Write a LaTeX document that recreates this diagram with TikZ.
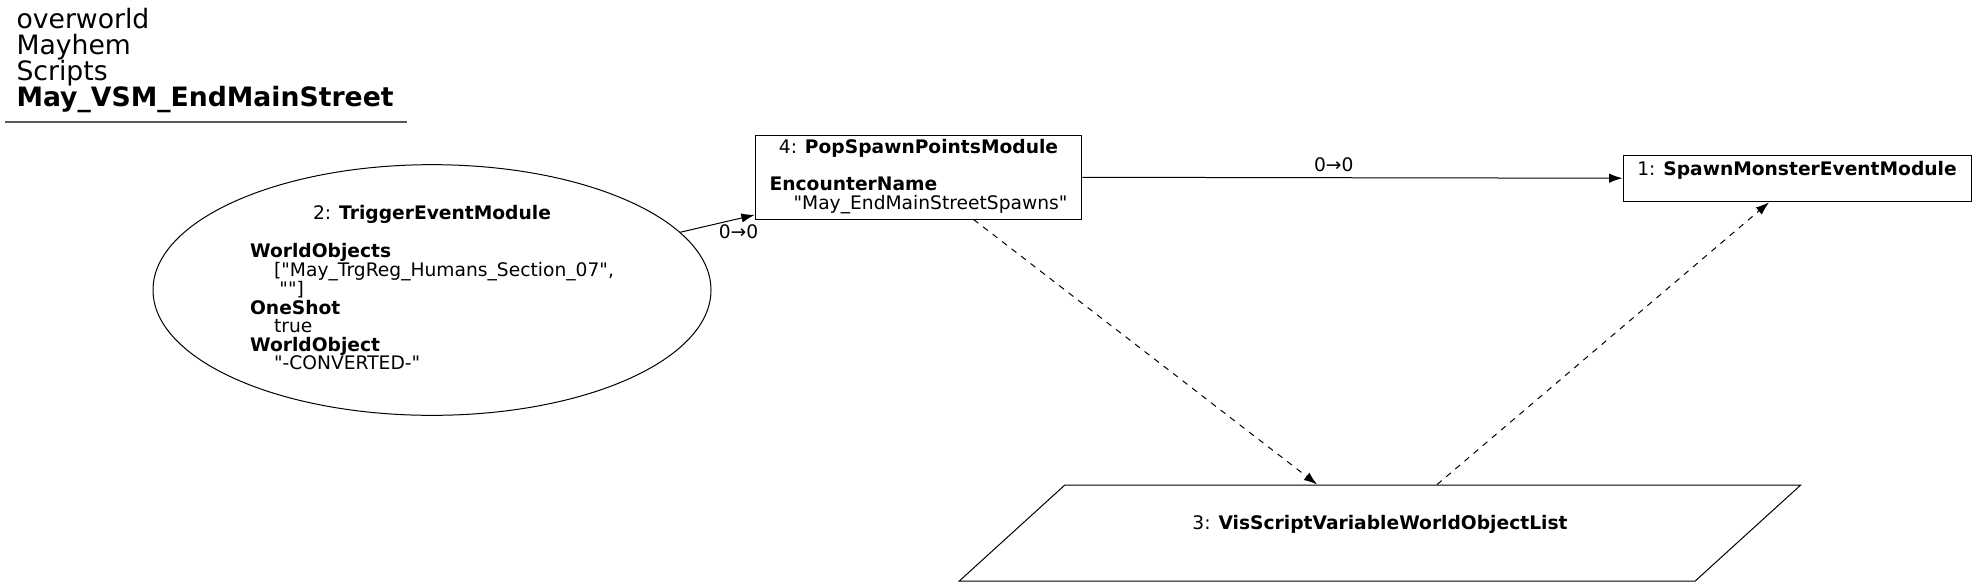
\documentclass[tikz,border=0pt]{standalone}
\usepackage{fontspec}
\setmainfont{DejaVu Sans}
\usetikzlibrary{arrows.meta, shapes.geometric}
\renewcommand{\arraystretch}{0.85}
\newcommand{\strq}{\textquotedbl}

\begin{document}
\begin{tikzpicture}[x=0.75pt, y=-0.75pt, ->, >={Latex[length=10pt,width=7pt]}, line width=0.75pt,
  every node/.style={font=\fontsize{14pt}{14pt}\selectfont},
  module node/.style={rectangle, draw, inner sep=0pt},
  event node/.style={ellipse, draw, inner sep=0pt, minimum width=418.5pt, minimum height=188pt},
  var node/.style={trapezium, trapezium left angle=29, trapezium right angle=151,
    trapezium stretches=true, draw, inner sep=0pt, minimum width=633pt, minimum height=72pt},
  title text/.style={anchor=base west, inner sep=0pt, font=\fontsize{20pt}{20pt}\selectfont},
  port label/.style={inner sep=0pt},
  link/.style={dash pattern=on 4.5pt off 4.5pt}]
  \useasboundingbox (0,0) rectangle (1977,587);

  % title
  \node[title text] (title1) at (16,28.5) {overworld};
  \node[title text] (title2) at (16,54.5) {Mayhem};
  \node[title text] (title3) at (16,80.5) {Scripts};
  \node[title text] (title4) at (16,106.5) {\bfseries May\_VSM\_EndMainStreet};
  \draw[-, line width=1.5pt, black!65] (5,122) -- (407,122);

  % modules
  \node[event node] (trigger) at (432,290) {\begin{tabular}{@{}l@{}}
    \multicolumn{1}{@{}c@{}}{2: \textbf{TriggerEventModule}}\\[14pt]
    \textbf{WorldObjects}\\
    \hspace{18pt}[\strq May\_TrgReg\_Humans\_Section\_07\strq,\\
    \hspace{22pt}\strq\strq]\\
    \textbf{OneShot}\\
    \hspace{18pt}true\\
    \textbf{WorldObject}\\
    \hspace{18pt}\strq-CONVERTED-\strq
  \end{tabular}};
  \node[module node, minimum width=245pt, minimum height=63pt] (popspawn) at (918.5,177) {\begin{tabular}{@{}l@{}}
    \multicolumn{1}{@{}c@{}}{4: \textbf{PopSpawnPointsModule}}\\[14pt]
    \textbf{EncounterName}\\
    \hspace{18pt}\strq May\_EndMainStreetSpawns\strq
  \end{tabular}};
  \node[module node, minimum width=261pt, minimum height=35pt] (spawnmonster) at (1797,178.5) {\begin{tabular}{@{}c@{}}
    1: \textbf{SpawnMonsterEventModule}\\
    ~
  \end{tabular}};
  \node[var node] (varlist) at (1380,533) {\begin{tabular}{@{}c@{}}
    3: \textbf{VisScriptVariableWorldObjectList}\\
    ~
  \end{tabular}};

  % links
  \path (trigger) edge node[port label, pos=1, anchor=north east, xshift=3pt, yshift=-7pt] {0→0} (popspawn);
  \path (popspawn) edge node[port label, midway, above=4pt, xshift=-14pt] {0→0} (spawnmonster);
  \path[link] (popspawn) edge (varlist)
    (varlist) edge (spawnmonster);
\end{tikzpicture}
\end{document}
